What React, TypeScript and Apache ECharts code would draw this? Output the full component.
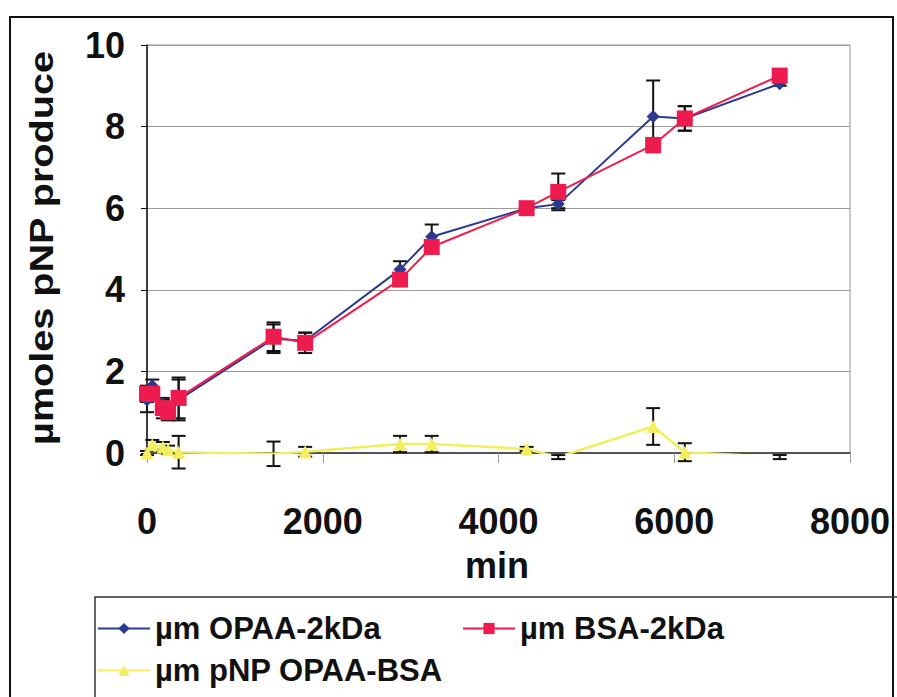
import React, { useEffect, useRef } from "react";
import * as echarts from "echarts";

const times = [0, 60, 180, 240, 360, 1440, 1800, 2880, 3240, 4320, 4680, 5760, 6120, 7200];
const opaa = [1.3, 1.65, 1.2, 1.1, 1.3, 2.8, 2.75, 4.5, 5.3, 6.0, 6.1, 8.25, 8.2, 9.05];
const opaaErr = [0.3, 0.15, 0.1, 0.1, 0.5, 0.35, 0.2, 0.2, 0.3, 0.05, 0.1, 0.88, 0.3, 0.05];
const bsa = [1.45, 1.45, 1.1, 1.0, 1.35, 2.85, 2.7, 4.25, 5.05, 6.0, 6.4, 7.55, 8.2, 9.25];
const bsaErr = [0.2, 0.1, 0.25, 0.2, 0.5, 0.35, 0.25, 0.1, 0.1, 0.05, 0.45, 0.1, 0.3, 0.15];
const pnp = [0.0, 0.2, 0.15, 0.08, 0.02, -0.02, 0.03, 0.22, 0.22, 0.1, -0.1, 0.65, 0.02, -0.1];
const pnpErr = [0.05, 0.12, 0.12, 0.1, 0.4, 0.3, 0.12, 0.2, 0.2, 0.05, 0.05, 0.45, 0.22, 0.05];

const seriesNames = ["µm OPAA-2kDa", "µm BSA-2kDa", "µm pNP OPAA-BSA"];
const yTitle = "µmoles pNP produce";
const xTitle = "min";

const sans = "'Liberation Sans', Arial, Helvetica, sans-serif";

function errSeries(vals: number[], errs: number[]) {
  return {
    type: "custom",
    z: 1,
    silent: true,
    data: times.map((t, i) => [t, vals[i] - errs[i], vals[i] + errs[i]]),
    renderItem: (params: any, api: any) => {
      const lo = api.coord([api.value(0), api.value(1)]);
      const hi = api.coord([api.value(0), api.value(2)]);
      const c = 7;
      const st = { stroke: "#111", lineWidth: 2 };
      return {
        type: "group",
        children: [
          { type: "line", shape: { x1: lo[0], y1: lo[1], x2: hi[0], y2: hi[1] }, style: st },
          { type: "line", shape: { x1: lo[0] - c, y1: lo[1], x2: lo[0] + c, y2: lo[1] }, style: st },
          { type: "line", shape: { x1: hi[0] - c, y1: hi[1], x2: hi[0] + c, y2: hi[1] }, style: st },
        ],
      };
    },
  };
}

export default function App() {
  const ref = useRef<HTMLDivElement>(null);
  useEffect(() => {
    document.body.style.margin = "0";
    const chart = echarts.init(ref.current!, null, { renderer: "svg" });
    const legendText = { fontSize: 31, fontWeight: "bold", color: "#111", fontFamily: sans };
    chart.setOption({
      animation: false,
      backgroundColor: "#fff",
      grid: { left: 147, right: 47, top: 45, bottom: 244, show: true, borderColor: "#999", borderWidth: 1 },
      legend: [
        { data: [seriesNames[0]], left: 97, top: 613, itemWidth: 52, itemHeight: 14, padding: 0, textStyle: legendText },
        { data: [seriesNames[1]], left: 462, top: 613, itemWidth: 52, itemHeight: 14, padding: 0, textStyle: legendText },
        { data: [seriesNames[2]], left: 97, top: 655, itemWidth: 52, itemHeight: 14, padding: 0, textStyle: legendText },
      ],
      xAxis: {
        type: "value",
        min: 0,
        max: 8000,
        interval: 2000,
        axisLine: { lineStyle: { color: "#333", width: 1.5 } },
        axisTick: { show: true, length: 10, lineStyle: { color: "#999" } },
        splitLine: { show: false },
        axisLabel: {
          margin: 50,
          fontSize: 36,
          fontWeight: "bold",
          color: "#111",
          fontFamily: sans,
          formatter: (v: number) => String(v),
        },
      },
      yAxis: {
        type: "value",
        min: 0,
        max: 10,
        interval: 2,
        axisLine: { show: true, lineStyle: { color: "#111", width: 1.5 } },
        axisTick: { show: true, length: 6, lineStyle: { color: "#111" } },
        splitLine: { lineStyle: { color: "#999", width: 1 } },
        axisLabel: { margin: 22, fontSize: 36, fontWeight: "bold", color: "#111", fontFamily: sans },
      },
      graphic: [
        { type: "rect", shape: { x: 10, y: 17, width: 883, height: 700 }, style: { fill: "none", stroke: "#111", lineWidth: 2 }, z: 0 },
        { type: "rect", shape: { x: 95, y: 597, width: 820, height: 120 }, style: { fill: "none", stroke: "#333", lineWidth: 1.5 }, z: 0 },
        {
          type: "text",
          x: 42,
          y: 248,
          rotation: Math.PI / 2,
          scaleX: 1.2,
          style: { text: yTitle, fontSize: 33, fontWeight: "bold", fill: "#111", align: "center", verticalAlign: "middle", fontFamily: sans },
        },
        {
          type: "text",
          x: 497,
          y: 565,
          style: { text: xTitle, fontSize: 36, fontWeight: "bold", fill: "#111", align: "center", verticalAlign: "middle", fontFamily: sans },
        },
      ],
      series: [
        errSeries(opaa, opaaErr),
        errSeries(bsa, bsaErr),
        errSeries(pnp, pnpErr),
        {
          name: seriesNames[2],
          type: "line",
          z: 2,
          data: times.map((t, i) => [t, pnp[i]]),
          symbol: "triangle",
          symbolSize: 13,
          itemStyle: { color: "#F3EE5C" },
          lineStyle: { color: "#F3EE5C", width: 2.5 },
        },
        {
          name: seriesNames[0],
          type: "line",
          z: 3,
          data: times.map((t, i) => [t, opaa[i]]),
          symbol: "diamond",
          symbolSize: 13,
          itemStyle: { color: "#2B3990" },
          lineStyle: { color: "#2B3990", width: 2 },
        },
        {
          name: seriesNames[1],
          type: "line",
          z: 4,
          data: times.map((t, i) => [t, bsa[i]]),
          symbol: "rect",
          symbolSize: 16,
          itemStyle: { color: "#EE1C4E" },
          lineStyle: { color: "#EE1C4E", width: 2 },
        },
      ],
    });
    return () => chart.dispose();
  }, []);
  return <div ref={ref} style={{ width: 897, height: 697 }} />;
}
